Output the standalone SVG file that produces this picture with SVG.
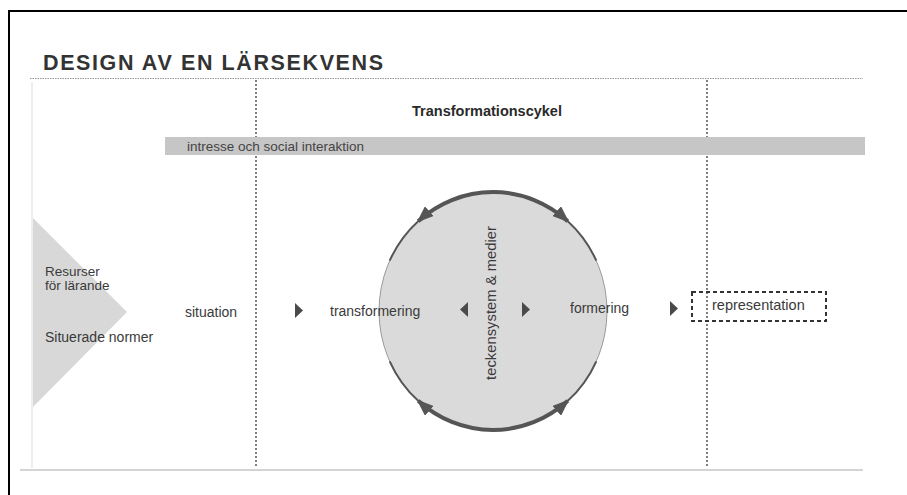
<svg xmlns="http://www.w3.org/2000/svg" width="907" height="495" viewBox="0 0 907 495">
<style>
  text { font-family: "Liberation Sans", Arial, sans-serif; fill: #3a3a3a; }
  .lbl { font-size: 14px; }
  .vdash { stroke: #555; stroke-width: 1.5; stroke-dasharray: 2 2; fill: none; }
  .tri { fill: #4a4a4a; }
  .cyc { fill: none; stroke: #555; stroke-width: 4; marker-start: url(#ah); marker-end: url(#ah); }
  .cycthin { fill: none; stroke: #555; stroke-width: 2; }
</style>
<defs>
  <marker id="ah" viewBox="0 0 17 13" refX="15" refY="6.5" markerWidth="17" markerHeight="13" markerUnits="userSpaceOnUse" orient="auto-start-reverse">
    <path d="M0,0 L17,6.5 L0,13 z" fill="#555"/>
  </marker>
</defs>
<rect x="0" y="0" width="907" height="495" fill="#ffffff"/>
<rect x="9" y="11" width="910" height="500" fill="none" stroke="#000" stroke-width="2"/>

<g id="frame">
  <text x="43" y="70" font-size="21.5" font-weight="bold" textLength="340" lengthAdjust="spacing" style="fill:#333">DESIGN AV EN LÄRSEKVENS</text>
  <line x1="30" y1="78.5" x2="863" y2="78.5" stroke="#999" stroke-width="1.2" stroke-dasharray="1.5 1"/>
  <line x1="20" y1="470" x2="863" y2="470" stroke="#aaa" stroke-width="1.2"/>
  <line x1="32" y1="82" x2="32" y2="468" stroke="#e2e2e2" stroke-width="1.2"/>
  <line class="vdash" x1="256" y1="80" x2="256" y2="466"/>
  <line class="vdash" x1="707" y1="80" x2="707" y2="466"/>
</g>

<g id="title-cycle">
  <text x="487" y="116" font-size="14.5" font-weight="bold" text-anchor="middle" style="fill:#2a2a2a">Transformationscykel</text>
</g>

<g id="interest-bar">
  <rect x="165" y="137" width="700" height="18" fill="#c6c6c6"/>
  <text x="187" y="150.5" font-size="13.5" style="fill:#444">intresse och social interaktion</text>
</g>

<g id="resources">
  <polygon points="33,218 127,312 33,407" fill="#d8d8d8"/>
  <text x="45" y="276" font-size="13.5">Resurser</text>
  <text x="45" y="290" font-size="13.5">för lärande</text>
  <text class="lbl" x="45" y="342">Situerade normer</text>
</g>

<g id="situation">
  <text class="lbl" x="185" y="317">situation</text>
</g>

<g id="circle">
  <ellipse cx="493" cy="311" rx="114" ry="119" fill="#dadada" stroke="#999" stroke-width="1"/>
  <text x="496" y="303" font-size="14.8" text-anchor="middle" transform="rotate(-90 496 303)">teckensystem &amp; medier</text>
</g>

<g id="transformering">
  <text class="lbl" x="330" y="316">transformering</text>
</g>

<g id="formering">
  <text class="lbl" x="570" y="313">formering</text>
</g>

<g id="representation">
  <rect x="692" y="292" width="134" height="29" fill="none" stroke="#333" stroke-width="2" stroke-dasharray="4 3"/>
  <text x="712" y="310" font-size="14.5">representation</text>
</g>

<g id="connectors">
  <polygon class="tri" points="295,303 303,310.5 295,318"/>
  <polygon class="tri" points="468,302 460,309.5 468,317"/>
  <polygon class="tri" points="522,302 530,309.5 522,317"/>
  <polygon class="tri" points="670,301 678,308.5 670,316"/>
  <path class="cyc" d="M 418.2 221.2 A 114 119 0 0 1 567.8 221.2"/>
  <path class="cyc" d="M 418.2 400.8 A 114 119 0 0 0 567.8 400.8"/>
  <path class="cycthin" d="M 389.7 260.7 A 114 119 0 0 1 418.2 221.2"/>
  <path class="cycthin" d="M 567.8 221.2 A 114 119 0 0 1 596.3 260.7"/>
  <path class="cycthin" d="M 389.7 361.3 A 114 119 0 0 0 418.2 400.8"/>
  <path class="cycthin" d="M 567.8 400.8 A 114 119 0 0 0 596.3 361.3"/>
</g>
</svg>
